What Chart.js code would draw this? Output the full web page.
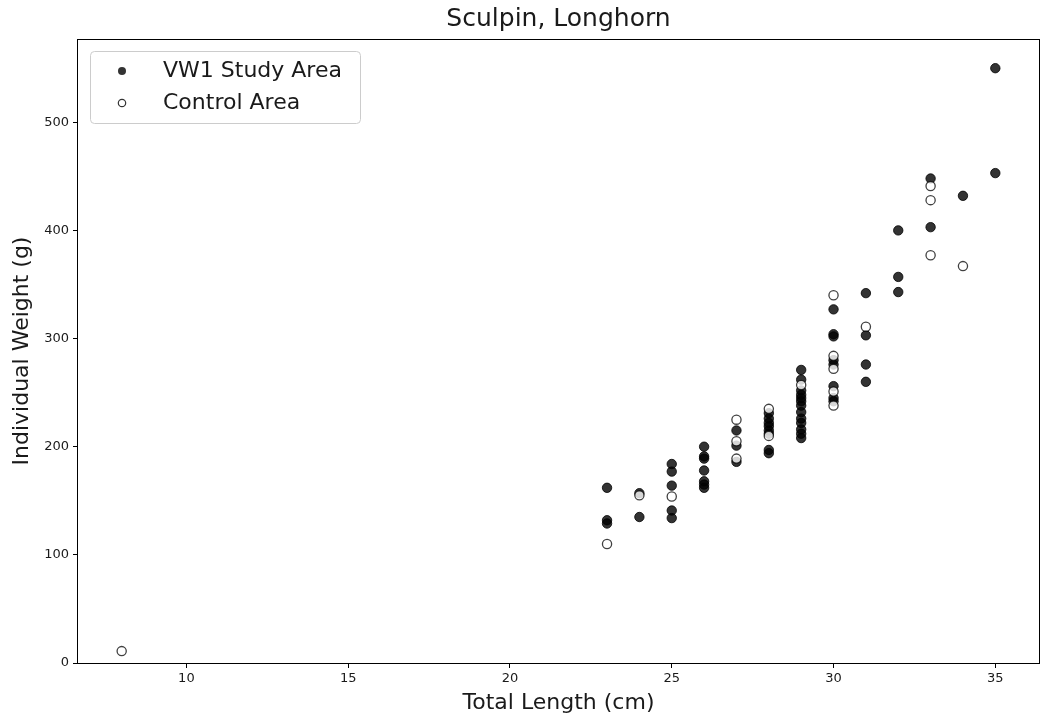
<!DOCTYPE html>
<html>
<head>
<meta charset="utf-8">
<script src="https://cdn.jsdelivr.net/npm/chart.js@4.4.1/dist/chart.umd.min.js"></script>
<style>
html,body{margin:0;padding:0;background:#fff;}
#c{display:block;}
</style>
</head>
<body>
<canvas id="c" width="1040" height="719"></canvas>
<script>
const chartTitle = "Sculpin, Longhorn";
const xAxisTitle = "Total Length (cm)";
const yAxisTitle = "Individual Weight (g)";
const seriesNames = ["VW1 Study Area", "Control Area"];

const xTicks = [10, 15, 20, 25, 30, 35];
const yTicks = [0, 100, 200, 300, 400, 500];

const vw1Length = [
  23, 23, 23,
  24, 24,
  25, 25, 25, 25, 25,
  26, 26, 26, 26, 26, 26, 26,
  27, 27, 27,
  28, 28, 28, 28, 28, 28, 28, 28,
  29, 29, 29, 29, 29, 29, 29, 29, 29, 29, 29, 29, 29,
  30, 30, 30, 30, 30, 30, 30, 30,
  31, 31, 31, 31,
  32, 32, 32,
  33, 33,
  34,
  35, 35
];
const vw1Weight = [
  162, 132, 129,
  157, 135,
  184, 177, 164, 141, 134,
  200, 191, 189, 178, 168, 165, 162,
  215, 201, 186,
  231, 226, 222, 219, 215, 212, 197, 194,
  271, 262, 252, 248, 245, 242, 238, 232, 226, 222, 216, 212, 208,
  327, 304, 302, 280, 276, 256, 245, 242,
  342, 303, 276, 260,
  400, 357, 343,
  448, 403,
  432,
  550, 453
];

const controlLength = [8, 23, 24, 25, 27, 27, 27, 28, 28, 29, 30, 30, 30, 30, 30, 31, 33, 33, 33, 34];
const controlWeight = [11, 110, 155, 154, 225, 205, 189, 235, 210, 257, 340, 284, 272, 251, 238, 311, 441, 428, 377, 367];

const xMin = 6.65, xMax = 36.35;
const yMin = 0, yMax = 577;

const vw1Points = vw1Length.map((x, i) => ({x: x, y: vw1Weight[i]}));
const controlPoints = controlLength.map((x, i) => ({x: x, y: controlWeight[i]}));

const FONT = "'DejaVu Sans', sans-serif";
const TEXT = '#1a1a1a';

const decor = {
  id: 'decor',
  afterDraw(chart) {
    const ctx = chart.ctx;
    const a = chart.chartArea;
    ctx.save();
    ctx.strokeStyle = '#000';
    ctx.lineWidth = 1;
    ctx.strokeRect(Math.round(a.left) - 0.5, Math.round(a.top) + 0.5, Math.round(a.right - a.left) + 1, Math.round(a.bottom - a.top));
    ctx.fillStyle = TEXT;
    ctx.font = "25px " + FONT;
    ctx.textAlign = 'center';
    ctx.textBaseline = 'middle';
    ctx.fillText(chartTitle, (a.left + a.right) / 2, 19);
    const lx = 90.5, ly = 51.5, lw = 270, lh = 72;
    ctx.beginPath();
    ctx.roundRect(lx, ly, lw, lh, 4);
    ctx.fillStyle = 'rgba(255,255,255,0.8)';
    ctx.fill();
    ctx.strokeStyle = '#cccccc';
    ctx.stroke();
    const rows = [71, 103];
    ctx.beginPath();
    ctx.arc(122, rows[0], 4, 0, Math.PI * 2);
    ctx.fillStyle = 'rgba(0,0,0,0.8)';
    ctx.fill();
    ctx.beginPath();
    ctx.arc(122, rows[1], 3.7, 0, Math.PI * 2);
    ctx.fillStyle = 'rgba(255,255,255,0.8)';
    ctx.fill();
    ctx.strokeStyle = 'rgba(0,0,0,0.8)';
    ctx.lineWidth = 1.2;
    ctx.stroke();
    ctx.fillStyle = TEXT;
    ctx.font = "22px " + FONT;
    ctx.textAlign = 'left';
    ctx.textBaseline = 'middle';
    ctx.fillText(seriesNames[0], 163, rows[0]);
    ctx.fillText(seriesNames[1], 163, rows[1]);
    ctx.restore();
  }
};

new Chart(document.getElementById('c'), {
  type: 'scatter',
  data: {
    datasets: [
      {
        label: seriesNames[0],
        data: vw1Points,
        order: 2,
        pointRadius: 4.7,
        pointHoverRadius: 4.7,
        pointBorderWidth: 1,
        backgroundColor: 'rgba(0,0,0,0.8)',
        borderColor: 'rgba(0,0,0,0.8)'
      },
      {
        label: seriesNames[1],
        data: controlPoints,
        order: 1,
        pointRadius: 4.6,
        pointHoverRadius: 4.6,
        pointBorderWidth: 1.3,
        backgroundColor: 'rgba(255,255,255,0.8)',
        borderColor: 'rgba(0,0,0,0.75)'
      }
    ]
  },
  options: {
    responsive: false,
    animation: false,
    devicePixelRatio: 1,
    layout: { autoPadding: false, padding: { top: 39, right: 1, left: 0, bottom: 0 } },
    plugins: {
      legend: { display: false },
      title: { display: false },
      tooltip: { enabled: false }
    },
    scales: {
      x: {
        type: 'linear',
        min: xMin,
        max: xMax,
        afterBuildTicks(s) { s.ticks = xTicks.map(v => ({value: v})); },
        afterFit(s) { s.height = 56; },
        grid: { drawOnChartArea: false, drawTicks: true, tickLength: 5, color: '#000', tickWidth: 1 },
        border: { display: false },
        ticks: { color: TEXT, font: { family: FONT, size: 13 }, padding: 3, maxRotation: 0 },
        title: { display: true, text: xAxisTitle, color: TEXT, font: { family: FONT, size: 22 }, padding: { top: 0, bottom: 3 } }
      },
      y: {
        type: 'linear',
        min: yMin,
        max: yMax,
        afterBuildTicks(s) { s.ticks = yTicks.map(v => ({value: v})); },
        afterFit(s) { s.width = 78; },
        grid: { drawOnChartArea: false, drawTicks: true, tickLength: 5, color: '#000', tickWidth: 1 },
        border: { display: false },
        ticks: { color: TEXT, font: { family: FONT, size: 13 }, padding: 4 },
        title: { display: true, text: yAxisTitle, color: TEXT, font: { family: FONT, size: 22 }, padding: { top: 9, bottom: 0 } }
      }
    }
  },
  plugins: [decor]
});
</script>
</body>
</html>
